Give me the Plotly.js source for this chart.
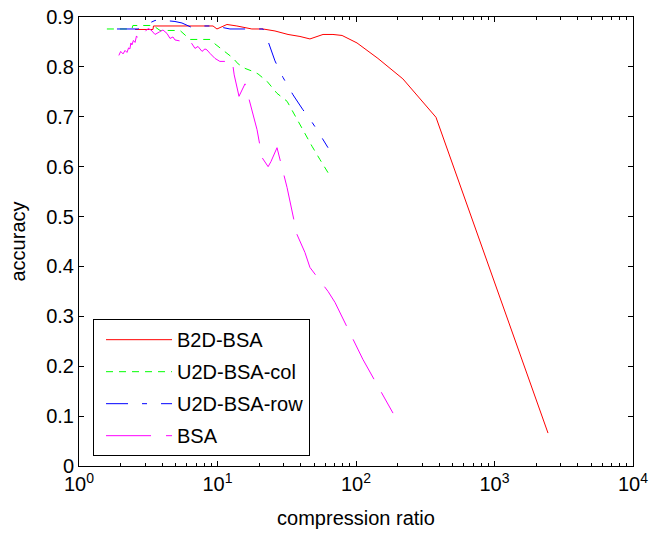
<!DOCTYPE html>
<html>
<head>
<meta charset="utf-8">
<script src="https://cdn.plot.ly/plotly-3.0.1.min.js"></script>
<style>html,body{margin:0;padding:0;background:#fff;}#chart{width:651px;height:540px;}</style>
</head>
<body>
<div id="chart"></div>
<script>
// B2D-BSA (red, solid)
var b2dX = [2.54, 3.42, 3.45, 9.28, 9.91, 11.7, 13.8, 17.7, 21.3, 26.0, 32.3, 39.4, 46.5, 57.8, 68.2, 79.3, 101.7, 144, 218, 378, 2434];
var b2dY = [0.875, 0.875, 0.882, 0.882, 0.876, 0.885, 0.882, 0.876, 0.876, 0.872, 0.865, 0.861, 0.856, 0.865, 0.865, 0.863, 0.848, 0.817, 0.776, 0.699, 0.066];

// U2D-BSA-col (green, dashed)
var colX = [1.59, 2.41, 2.45, 3.42, 3.85, 5.36, 6.33, 8.83, 9.59, 10.4, 11.7, 12.9, 14.1, 15.8, 18.0, 19.6, 22.8, 26.9, 31.8, 37.5, 40.8, 48.1, 55.0, 62.8];
var colY = [0.876, 0.876, 0.883, 0.883, 0.873, 0.873, 0.855, 0.855, 0.846, 0.838, 0.826, 0.818, 0.806, 0.797, 0.791, 0.786, 0.771, 0.747, 0.731, 0.694, 0.678, 0.641, 0.614, 0.588];

// U2D-BSA-row (blue, dash-dot)
var rowX = [1.88, 2.67, 3.00, 3.26, 3.54, 3.85, 4.93, 5.54, 6.65, 7.86, 9.59, 12.3, 13.8, 17.7, 21.3, 23.2, 26.0, 29.7, 35.1, 41.4, 44.3, 52.3, 62.8];
var rowY = [0.876, 0.876, 0.884, 0.888, 0.893, 0.894, 0.891, 0.888, 0.878, 0.882, 0.882, 0.876, 0.876, 0.876, 0.876, 0.851, 0.812, 0.779, 0.744, 0.714, 0.704, 0.674, 0.638];

// BSA (magenta, long dash)
var bsaX = [1.94, 2.00, 2.08, 2.15, 2.22, 2.28, 2.33, 2.37, 2.41, 2.47, 2.54, 2.60, 2.67, 2.76, 2.85, 3.00, 3.15, 3.31, 3.54, 3.80, 4.04, 4.32, 4.54, 4.77, 4.93, 5.36, 5.82, 6.20, 6.54, 6.88, 7.23, 7.73, 8.12, 8.40, 8.83, 9.59, 10.4, 11.3, 12.3, 12.9, 13.2, 14.3, 15.8, 18.0, 19.3, 21.0, 23.2, 24.3, 26.9, 31.8, 34.5, 37.5, 42.8, 46.5, 62.8, 70.5, 112, 185];
var bsaY = [0.823, 0.831, 0.826, 0.833, 0.829, 0.838, 0.836, 0.848, 0.844, 0.853, 0.849, 0.862, 0.857, 0.868, 0.864, 0.871, 0.877, 0.874, 0.865, 0.870, 0.874, 0.867, 0.857, 0.860, 0.854, 0.852, 0.851, 0.856, 0.847, 0.837, 0.841, 0.831, 0.836, 0.834, 0.827, 0.817, 0.811, 0.811, 0.817, 0.804, 0.784, 0.741, 0.766, 0.708, 0.674, 0.618, 0.600, 0.610, 0.638, 0.558, 0.514, 0.464, 0.428, 0.398, 0.350, 0.328, 0.214, 0.106];

var xTickVals = [1, 10, 100, 1000, 10000];
var xTickText = ['10<sup>0</sup>', '10<sup>1</sup>', '10<sup>2</sup>', '10<sup>3</sup>', '10<sup>4</sup>'];
var yTickVals = [0, 0.1, 0.2, 0.3, 0.4, 0.5, 0.6, 0.7, 0.8, 0.9];
var yTickText = ['0', '0.1', '0.2', '0.3', '0.4', '0.5', '0.6', '0.7', '0.8', '0.9'];

var minorVals = [];
for (var d = 0; d < 4; d++) {
  for (var m = 2; m <= 9; m++) minorVals.push(m * Math.pow(10, d));
}

var FONT = 'Liberation Sans, Arial, Helvetica, sans-serif';

var traces = [
  {x: b2dX, y: b2dY, name: 'B2D-BSA', type: 'scatter', mode: 'lines', legendgroup: 'a',
   line: {color: '#ff0000', width: 1, dash: 'solid'}},
  {x: colX, y: colY, name: 'U2D-BSA-col', type: 'scatter', mode: 'lines', legendgroup: 'b',
   line: {color: '#00ff00', width: 1, dash: '7px,6px'}},
  {x: rowX, y: rowY, name: 'U2D-BSA-row', type: 'scatter', mode: 'lines', legendgroup: 'c',
   line: {color: '#0000ff', width: 1, dash: '22px,14px,5px,14px'}},
  {x: bsaX, y: bsaY, name: 'BSA', type: 'scatter', mode: 'lines', legendgroup: 'd',
   line: {color: '#ff00ff', width: 1, dash: '45px,15px'}}
];

var layout = {
  width: 651, height: 540,
  margin: {l: 79, r: 18, t: 17, b: 74, pad: 0},
  paper_bgcolor: '#ffffff', plot_bgcolor: '#ffffff',
  font: {family: FONT, size: 20, color: '#000000'},
  showlegend: true,
  legend: {
    x: 0.0253, y: 0.327, xanchor: 'left', yanchor: 'top',
    bgcolor: '#ffffff', bordercolor: '#000000', borderwidth: 1,
    font: {family: FONT, size: 20, color: '#000000'},
    itemwidth: 66, traceorder: 'grouped', tracegroupgap: 3, indentation: 7
  },
  xaxis: {
    type: 'log', range: [0, 4],
    tickmode: 'array', tickvals: xTickVals, ticktext: xTickText,
    ticks: 'inside', ticklen: 5, tickwidth: 1, tickcolor: '#000',
    showline: true, linecolor: '#000', linewidth: 1, mirror: 'allticks',
    showgrid: false, zeroline: false,
    tickfont: {family: FONT, size: 20, color: '#000'},
    minor: {tickmode: 'array', tickvals: minorVals, ticks: 'inside', ticklen: 3, tickcolor: '#000', showgrid: false},
    title: {text: 'compression ratio', font: {family: FONT, size: 20, color: '#000'}, standoff: 16}
  },
  yaxis: {
    range: [0, 0.9],
    tickmode: 'array', tickvals: yTickVals, ticktext: yTickText,
    ticks: 'inside', ticklen: 5, tickwidth: 1, tickcolor: '#000',
    showline: true, linecolor: '#000', linewidth: 1, mirror: 'allticks',
    showgrid: false, zeroline: false,
    tickfont: {family: FONT, size: 20, color: '#000'},
    title: {text: 'accuracy', font: {family: FONT, size: 20, color: '#000'}, standoff: 15}
  }
};

Plotly.newPlot('chart', traces, layout, {staticPlot: true, displayModeBar: false});
</script>
</body>
</html>
